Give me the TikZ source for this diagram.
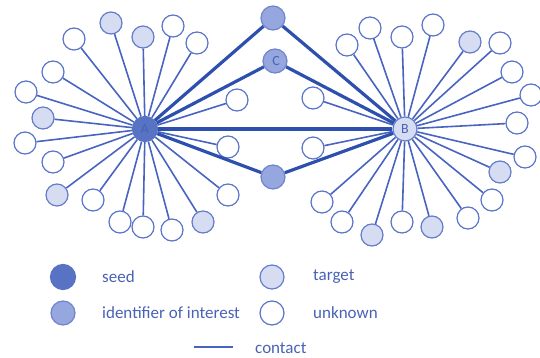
\documentclass[tikz,border=0pt]{standalone}
\usepackage{fontspec}
\setmainfont{Carlito}
\definecolor{lcol}{RGB}{72,100,192}
\definecolor{tcol}{RGB}{45,80,175}
\definecolor{seedf}{RGB}{88,114,196}
\definecolor{idff}{RGB}{150,166,222}
\definecolor{idfd}{RGB}{112,132,206}
\definecolor{tgtf}{RGB}{214,221,242}
\definecolor{tgtd}{RGB}{100,125,202}
\definecolor{unkd}{RGB}{90,116,202}
\definecolor{txtc}{RGB}{72,98,182}
\tikzset{
  base/.style={circle,inner sep=0pt,minimum size=22pt,line width=1.2pt},
  u/.style={base,draw=unkd,fill=white},
  t/.style={base,draw=tgtd,fill=tgtf},
  idf/.style={base,draw=idfd,fill=idff,minimum size=24pt},
  seedn/.style={base,draw=seedf,fill=seedf,minimum size=25pt},
  cedge/.style={draw=lcol,line width=1.6pt},
  tedge/.style={draw=tcol,line width=3.2pt},
  lab/.style={font=\fontsize{17}{20}\selectfont,text=txtc,anchor=west,inner sep=0pt},
  hubl/.style={font=\fontsize{14}{16}\selectfont,text=txtc}
}
\begin{document}
\begin{tikzpicture}[x=1pt,y=-1pt]
\useasboundingbox (0,0) rectangle (540,358);
% hubs and middle nodes
\node[seedn,hubl] (A) at (145,129) {A};
\node[t,minimum size=24pt,hubl] (B) at (405,129) {B};
\node[idf] (I1) at (273,18) {};
\node[idf,hubl] (C) at (275,61) {\,C};
\node[idf] (I2) at (273,177) {};
% satellites of A
\foreach \x/\y/\s [count=\i] in {111/23/t,143/37/t,173/26/u,197/43/u,74/39/u,53/72/u,26/92/u,43/118/t,25/143/u,53/162/u,57/195/t,93/200/u,120/222/u,143/227/u,172/230/u,203/222/t,228/195/u,228/147/u,237/100/u}
  \node[\s] (a\i) at (\x,\y) {};
% satellites of B
\foreach \x/\y/\s [count=\i] in {370/28/u,347/45/u,402/37/u,433/25/u,470/42/t,500/43/u,512/72/u,531/95/u,517/123/u,525/157/u,500/172/t,492/200/u,468/218/u,432/227/t,402/222/u,372/235/t,342/222/u,322/202/u,313/148/u,313/98/u}
  \node[\s] (b\i) at (\x,\y) {};
% contacts
\foreach \i in {1,...,19} \draw[cedge] (A) -- (a\i);
\foreach \i in {1,...,20} \draw[cedge] (B) -- (b\i);
\draw[tedge] (A) -- (I1);
\draw[tedge] (A) -- (C);
\draw[tedge] (A) -- (B);
\draw[tedge] (A) -- (I2);
\draw[tedge] (B) -- (I1);
\draw[tedge] (B) -- (C);
\draw[tedge] (B) -- (I2);
% legend
\node[seedn] (ls) at (63,277) {};
\node[lab] (lst) at (102,277) {seed};
\node[t,minimum size=24pt] (lt) at (272,277) {};
\node[lab] (ltt) at (313,277) {target};
\node[idf] (li) at (63,313) {};
\node[lab] (lit) at (102,313) {identifier of interest};
\node[u,minimum size=24pt] (lu) at (272,313) {};
\node[lab] (lut) at (313,313) {unknown};
\coordinate (lc1) at (194,347);
\coordinate (lc2) at (233,347);
\draw[cedge] (lc1) -- (lc2);
\node[lab] (lct) at (255,348) {contact};
\end{tikzpicture}
\end{document}
